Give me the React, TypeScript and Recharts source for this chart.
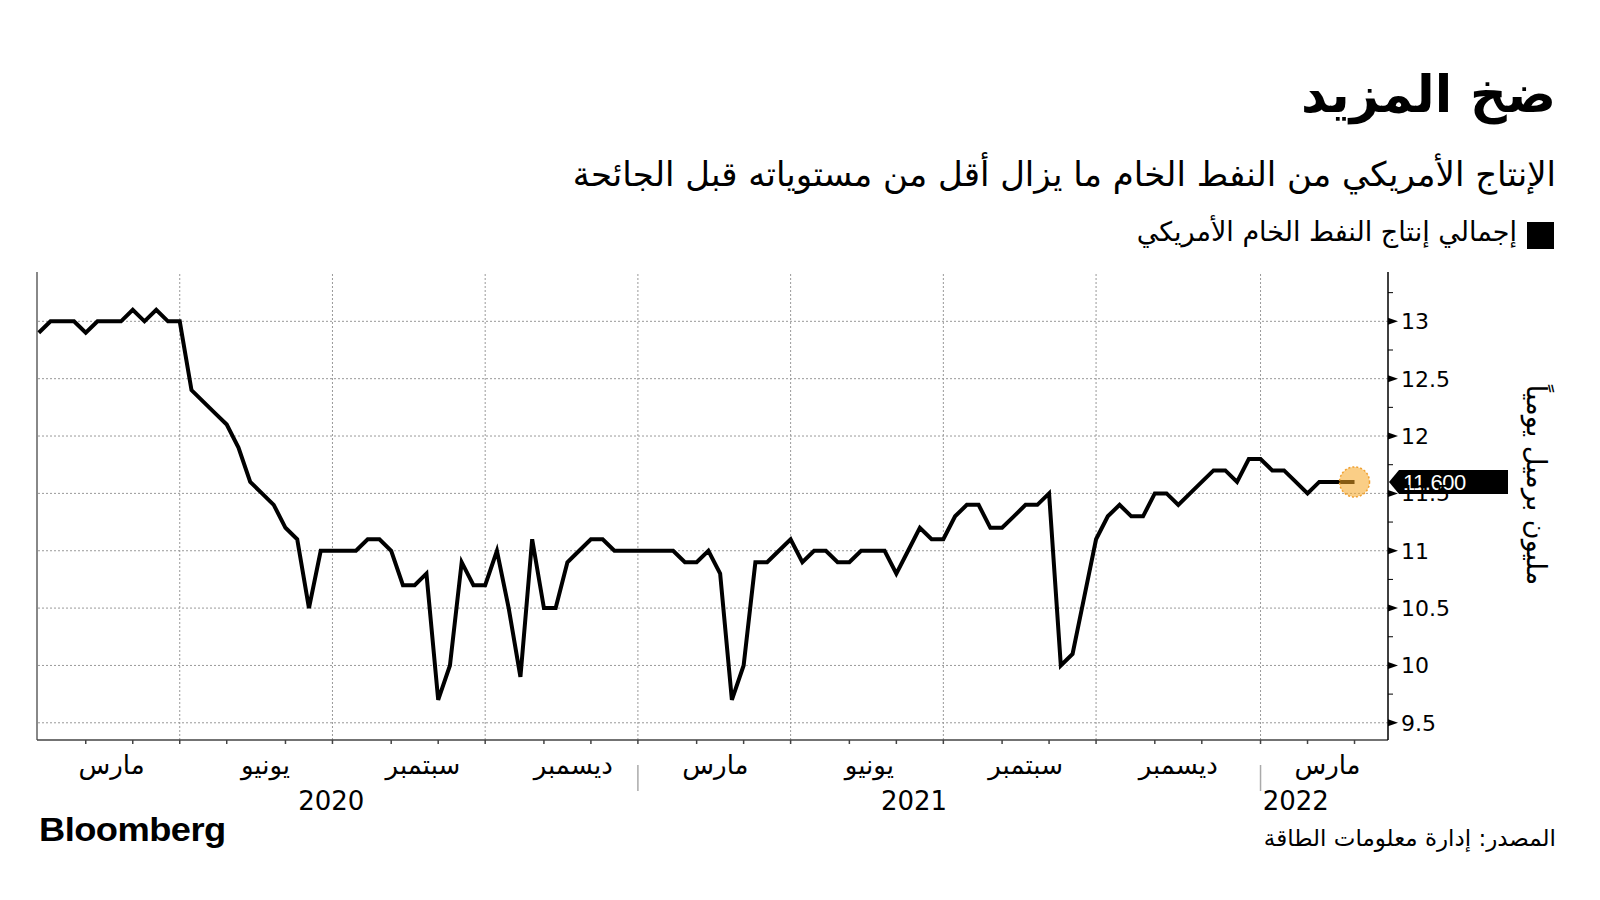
import * as React from "react";
import {
  LineChart,
  Line,
  XAxis,
  YAxis,
  ReferenceLine,
} from "recharts";

// weekly US crude output, mb/d, weeks ending Fridays from 2020-01-03
const production = [
  12.9, 13.0, 13.0, 13.0, 12.9, 13.0, 13.0, 13.0, 13.1, 13.0, 13.1, 13.0, 13.0,
  12.4, 12.3, 12.2, 12.1, 11.9, 11.6, 11.5, 11.4, 11.2, 11.1, 10.5, 11.0, 11.0,
  11.0, 11.0, 11.1, 11.1, 11.0, 10.7, 10.7, 10.8, 9.7, 10.0, 10.9, 10.7, 10.7,
  11.0, 10.5, 9.9, 11.1, 10.5, 10.5, 10.9, 11.0, 11.1, 11.1, 11.0, 11.0, 11.0,
  11.0, 11.0, 11.0, 10.9, 10.9, 11.0, 10.8, 9.7, 10.0, 10.9, 10.9, 11.0, 11.1,
  10.9, 11.0, 11.0, 10.9, 10.9, 11.0, 11.0, 11.0, 10.8, 11.0, 11.2, 11.1, 11.1,
  11.3, 11.4, 11.4, 11.2, 11.2, 11.3, 11.4, 11.4, 11.5, 10.0, 10.1, 10.6, 11.1,
  11.3, 11.4, 11.3, 11.3, 11.5, 11.5, 11.4, 11.5, 11.6, 11.7, 11.7, 11.6, 11.8,
  11.8, 11.7, 11.7, 11.6, 11.5, 11.6, 11.6, 11.6, 11.6,
];

// week index of the last report before each month / quarter starts
const monthTicks = [
  4, 8, 12, 16, 21, 25, 30, 34, 38, 43, 47, 51, 56, 60, 64, 69, 73, 77, 82, 86,
  90, 95, 99, 104, 108, 112,
];
const quarterLines = [12, 25, 38, 51, 64, 77, 90, 104];
const yearBreaks = [51, 104];

const monthLabels = [
  { at: 6.2, text: "مارس" },
  { at: 19.3, text: "يونيو" },
  { at: 32.7, text: "سبتمبر" },
  { at: 45.5, text: "ديسمبر" },
  { at: 57.6, text: "مارس" },
  { at: 70.7, text: "يونيو" },
  { at: 84.0, text: "سبتمبر" },
  { at: 97.0, text: "ديسمبر" },
  { at: 109.7, text: "مارس" },
];
const yearLabels = [
  { at: 24.9, text: "2020" },
  { at: 74.5, text: "2021" },
  { at: 107.0, text: "2022" },
];

const yMajor = [9.5, 10, 10.5, 11, 11.5, 12, 12.5, 13];
const yMinor = [9.75, 10.25, 10.75, 11.25, 11.75, 12.25, 12.75, 13.25];

const lastValue = 11.6;

const AR = '"DejaVu Sans", sans-serif';

const data = production.map((v, i) => ({ i, v }));

const xMarks = [
  ...monthTicks.map((i) => ({ at: i, kind: "tick", text: "" })),
  ...monthLabels.map((m) => ({ ...m, kind: "month" })),
  ...yearLabels.map((m) => ({ ...m, kind: "year" })),
];

function XTick(props) {
  const { x, y, payload } = props;
  const mark = xMarks.find((m) => m.at === payload.value);
  if (!mark) return null;
  if (mark.kind === "tick") {
    return (
      <g>
        <line x1={x} x2={x} y1={y} y2={y + 4} stroke="#444" strokeWidth={1.5} />
        {yearBreaks.includes(mark.at) && (
          <line x1={x} x2={x} y1={y + 25} y2={y + 51} stroke="#aaa" strokeWidth={1.5} />
        )}
      </g>
    );
  }
  if (mark.kind === "month") {
    return (
      <text x={x} y={y + 34} textAnchor="middle" fontSize={26} fontFamily={AR} fill="#000">
        {mark.text}
      </text>
    );
  }
  return (
    <text x={x} y={y + 70} textAnchor="middle" fontSize={26} fontFamily={AR} fill="#000">
      {mark.text}
    </text>
  );
}

function YTick(props) {
  const { x, y, payload } = props;
  if (yMinor.includes(payload.value)) {
    return <line x1={x} x2={x + 5} y1={y} y2={y} stroke="#000" strokeWidth={1} />;
  }
  return (
    <g>
      <polygon points={`${x},${y - 3.5} ${x + 10},${y} ${x},${y + 3.5}`} fill="#000" />
      <text x={x + 13} y={y} dy="0.36em" fontSize={22} fontFamily={AR} fill="#000">
        {String(payload.value)}
      </text>
    </g>
  );
}

function LastDot(props) {
  const { cx, cy, index } = props;
  if (index !== production.length - 1) return null;
  return (
    <circle
      key="last"
      cx={cx}
      cy={cy}
      r={15}
      fill="#f5a623"
      fillOpacity={0.55}
      stroke="#f0a030"
      strokeWidth={1.5}
      strokeDasharray="2 2"
    />
  );
}

function Badge(props) {
  const { viewBox } = props;
  const x = viewBox.x + viewBox.width + 1;
  const y = viewBox.y;
  return (
    <g>
      <polygon
        points={`${x},${y} ${x + 10},${y - 12} ${x + 119},${y - 12} ${x + 119},${y + 12} ${x + 10},${y + 12}`}
        fill="#000"
      />
      <text
        x={x + 14}
        y={y}
        dy="0.36em"
        fontSize={22}
        fontFamily='"Liberation Sans", Arial, sans-serif'
        fill="#fff"
        letterSpacing={-0.5}
      >
        {lastValue.toFixed(3)}
      </text>
    </g>
  );
}

export default function App() {
  return (
    <div
      style={{
        position: "absolute",
        left: 0,
        top: 0,
        width: 1600,
        height: 900,
        background: "#fff",
        overflow: "hidden",
      }}
    >
      <div
        style={{
          position: "absolute",
          right: 44,
          top: 65,
          fontFamily: AR,
          fontWeight: "bold",
          fontSize: 51,
          direction: "rtl",
          whiteSpace: "nowrap",
        }}
      >
        ضخ المزيد
      </div>
      <div
        style={{
          position: "absolute",
          right: 44,
          top: 154,
          fontFamily: AR,
          fontSize: 34,
          direction: "rtl",
          whiteSpace: "nowrap",
        }}
      >
        الإنتاج الأمريكي من النفط الخام ما يزال أقل من مستوياته قبل الجائحة
      </div>
      <div
        style={{
          position: "absolute",
          left: 1527,
          top: 222,
          width: 27,
          height: 27,
          background: "#000",
        }}
      />
      <div
        style={{
          position: "absolute",
          right: 83,
          top: 216,
          fontFamily: AR,
          fontSize: 27,
          direction: "rtl",
          whiteSpace: "nowrap",
        }}
      >
        إجمالي إنتاج النفط الخام الأمريكي
      </div>
      <div
        style={{
          position: "absolute",
          left: 1536,
          top: 485,
          transform: "translate(-50%, -50%) rotate(90deg)",
          fontFamily: AR,
          fontSize: 27,
          direction: "rtl",
          whiteSpace: "nowrap",
        }}
      >
        مليون برميل يومياً
      </div>

      <LineChart
        width={1600}
        height={900}
        data={data}
        margin={{ top: 272, right: 152, bottom: 80, left: 37 }}
        style={{ position: "absolute", left: 0, top: 0 }}
      >
        <XAxis
          dataKey="i"
          type="number"
          domain={[-0.15, 114.85]}
          ticks={xMarks.map((m) => m.at)}
          interval={0}
          tick={<XTick />}
          tickLine={false}
          tickSize={0}
          tickMargin={0}
          height={80}
          axisLine={{ stroke: "#444", strokeWidth: 1.5 }}
          allowDataOverflow
        />
        <YAxis
          orientation="right"
          type="number"
          domain={[9.35, 13.43]}
          ticks={[...yMajor, ...yMinor].sort((a, b) => a - b)}
          interval={0}
          tick={<YTick />}
          tickLine={false}
          tickSize={0}
          tickMargin={0}
          width={60}
          axisLine={{ stroke: "#000", strokeWidth: 1.5 }}
          allowDataOverflow
        />
        {yMajor.map((v) => (
          <ReferenceLine key={"h" + v} y={v} stroke="#999" strokeDasharray="2 2" strokeWidth={1} />
        ))}
        {quarterLines.map((v) => (
          <ReferenceLine key={"v" + v} x={v} stroke="#999" strokeDasharray="2 2" strokeWidth={1} />
        ))}
        <ReferenceLine x={-0.15} stroke="#888" strokeWidth={2} />
        <Line
          dataKey="v"
          type="linear"
          stroke="#000"
          strokeWidth={4}
          strokeLinejoin="miter"
          dot={LastDot}
          activeDot={false}
          isAnimationActive={false}
        />
        <ReferenceLine y={lastValue} stroke="none" strokeWidth={0} label={<Badge />} />
      </LineChart>

      <div
        style={{
          position: "absolute",
          left: 39,
          top: 811,
          fontFamily: '"Liberation Sans", Arial, sans-serif',
          fontWeight: "bold",
          fontSize: 33,
          letterSpacing: -0.5,
          transform: "scaleX(1.1)",
          transformOrigin: "left center",
          whiteSpace: "nowrap",
        }}
      >
        Bloomberg
      </div>
      <div
        style={{
          position: "absolute",
          right: 44,
          top: 825,
          fontFamily: AR,
          fontSize: 23,
          direction: "rtl",
          whiteSpace: "nowrap",
        }}
      >
        المصدر: إدارة معلومات الطاقة
      </div>
    </div>
  );
}
